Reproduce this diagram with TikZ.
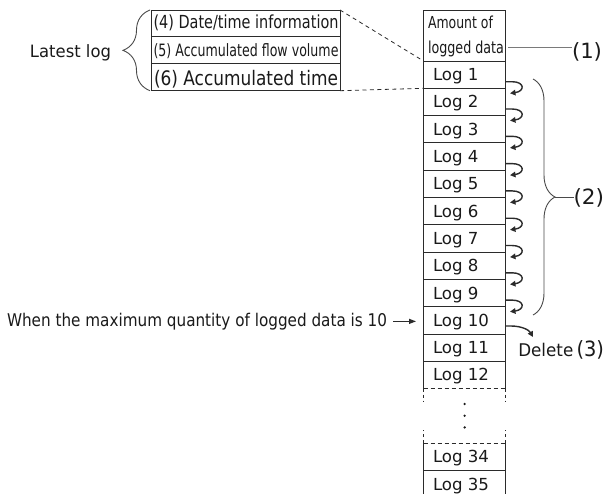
\documentclass[tikz,border=0pt]{standalone}
\usepackage{fontspec}
\setmainfont{DejaVu Sans}
\usepackage{graphicx}
\usetikzlibrary{calc,decorations.pathreplacing,arrows.meta}
\definecolor{linec}{HTML}{2B2B2B}
\definecolor{textc}{HTML}{1A1A1A}
\definecolor{bracec}{HTML}{4A4A4A}
\definecolor{greyl}{HTML}{7A7A7A}
\newcommand\fitw[3]{\resizebox{#2pt}{\height}{\fontsize{#1pt}{#1pt}\selectfont #3}}
\begin{document}
\begin{tikzpicture}[x=1pt,y=-1pt,
  boxline/.style={draw=linec,line width=1pt},
  dashline/.style={draw=linec,line width=1pt,dash pattern=on 4pt off 3pt},
  sidedash/.style={draw=linec,line width=1pt,dash pattern=on 3pt off 3pt},
  cell/.style={boxline,minimum width=82.3pt,minimum height=27.3pt,inner xsep=9.5pt,inner ysep=0pt,
    outer sep=0pt,text height=12pt,text depth=0pt,font=\fontsize{16.6pt}{16.6pt}\selectfont,text=textc},
  lcell/.style={boxline,minimum width=188.3pt,inner sep=0pt,outer sep=0pt},
  txt/.style={inner sep=0pt,outer sep=0pt,text=textc},
  dconn/.style={draw=linec,line width=0.8pt,dash pattern=on 4pt off 3.5pt},
  brc/.style={draw=bracec,line width=0.9pt,decorate},
  carrow/.style={draw=linec,line width=1.4pt,-{Triangle[length=5.5pt,width=5.5pt]}},
  sarrow/.style={draw=linec,line width=1.2pt,-{Triangle[length=7pt,width=5pt]}}]
\useasboundingbox[fill=white] (0,0) rectangle (605,493);

% ---- log column ----
\node[cell,minimum height=51pt] (hdr) at (464.65,35.5) {};
\node[txt,anchor=base west] (hdrA) at (428,28.3) {\fitw{16.5}{65}{Amount of}};
\node[txt,anchor=base west] (hdrB) at (428,53.3) {\fitw{16.5}{76}{logged data}};
\foreach \k in {1,...,11}{
  \node[cell] (log\k) at (464.65,{61+27.3*\k-13.65}) {\makebox[63.3pt][l]{Log \k}};
}
\node[cell,draw=none] (log12) at (464.65,{61+27.3*12-13.65}) {\makebox[63.3pt][l]{Log 12}};
\draw[boxline] (log12.south west) -- (log12.north west) (log12.north east) -- (log12.south east);
\draw[dashline] (log12.south west) -- (log12.south east);
\node[cell,draw=none] (log34) at (464.65,456.85) {\makebox[63.3pt][l]{Log 34}};
\draw[boxline] (log34.north west) -- (log34.south west) -- (log34.south east) -- (log34.north east);
\draw[dashline] (log34.north west) -- (log34.north east);
\node[cell] (log35) at (464.65,484.15) {\makebox[63.3pt][l]{Log 35}};
\draw[sidedash] (log12.south west) -- ++(0,13.4);
\draw[sidedash] (log12.south east) -- ++(0,13.4);
\draw[sidedash] (log34.north west) -- ++(0,-13.7);
\draw[sidedash] (log34.north east) -- ++(0,-13.7);
\fill[textc] ($(log12.south)+(0,15.4)$) circle (1.3);
\fill[textc] ($(log12.south)+(0,27.1)$) circle (1.3);
\fill[textc] ($(log12.south)+(0,38.8)$) circle (1.3);

% ---- shift arrows ----
\foreach \k in {1,...,9}{
  \pgfmathtruncatemacro\kk{\k+1}
  \draw[carrow] ($(log\k.south east)+(0,-6.6)$) -- ++(6.2,0)
     .. controls +(13,0) and ($(log\kk.north east)+(19.2,3)$) .. ($(log\kk.north east)+(4.2,5)$);
}

% ---- (1) ----
\node[txt,anchor=base west] (lab1) at (572,58.3) {\fitw{21}{30}{(1)}};
\draw[draw=greyl,line width=1.3pt] ($(hdr.east)+(2.5,12.2)$) coordinate (l1s) -- (l1s -| lab1.west);

% ---- (2) brace ----
\coordinate (b2t) at (533,79);
\coordinate (b2b) at (533,315);
\draw[brc,decoration={brace,amplitude=22pt}] (b2t) -- (b2b);
\node[txt,anchor=base west] (lab2) at (573.5,204.8) {\fitw{21}{30.5}{(2)}};
\draw[draw=bracec,line width=0.9pt] (555,197.7) -- (lab2.west |- 0,197.7);

% ---- delete (3) ----
\coordinate (delend) at (533,337);
\draw[carrow] ($(log10.south east)+(0,-8)$) -- ++(5,0) .. controls +(11,0) and (529,330) .. (delend);
\node[txt,anchor=base west] (del) at (518.3,356.7) {\fitw{17.5}{55}{Delete}};
\node[txt,anchor=base west] (lab3) at (576.5,356.7) {\fitw{21}{27.5}{(3)}};

% ---- max quantity ----
\node[txt,anchor=base west] (when) at (7,326.7) {\fitw{17.5}{380}{When the maximum quantity of logged data is 10}};
\draw[sarrow] ($(when.east)+(6,-0.5)$) -- ($(when.east -| log10.west)+(-7.5,-0.5)$);

% ---- latest log box ----
\node[lcell,minimum height=26.7pt] (r4) at (245.85,23.35) {};
\node[lcell,minimum height=26.6pt] (r5) at (245.85,50) {};
\node[lcell,minimum height=27.4pt] (r6) at (245.85,77) {};
\node[txt,anchor=base west] (t4) at (153.5,28.5) {\fitw{18}{185}{(4) Date/time information}};
\node[txt,anchor=base west] (t5) at (153.5,56) {\fitw{17}{185}{(5) Accumulated flow volume}};
\node[txt,anchor=base west] (t6) at (154,85) {\fitw{20}{184}{(6) Accumulated time}};
\draw[dconn] (r4.north east) -- (hdr.south west);
\draw[dconn] (r6.south east) -- (log1.south west);

\coordinate (lbb) at (150,90.7);
\coordinate (lbt) at (150,10);
\draw[brc,decoration={brace,amplitude=27pt}] (lbb) -- (lbt);
\node[txt,anchor=base west] (latest) at (30,57.8) {\fitw{17}{81}{Latest log}};
\end{tikzpicture}
\end{document}
